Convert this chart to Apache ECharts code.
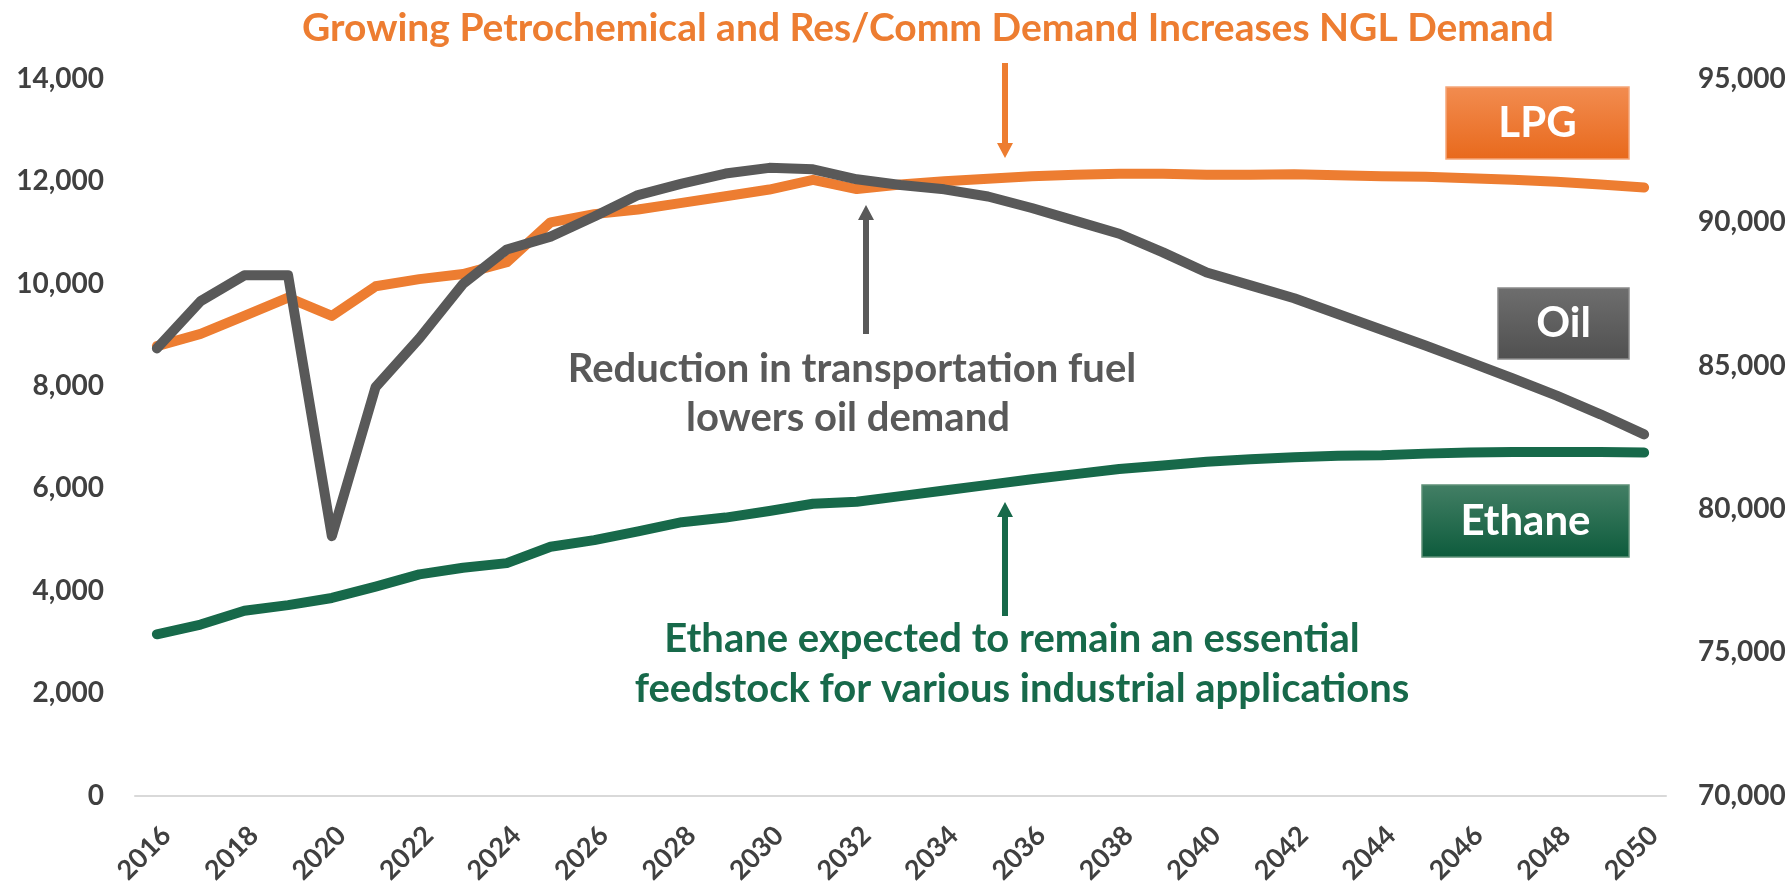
<!DOCTYPE html>
<html>
<head>
<meta charset="utf-8">
<script src="https://cdn.jsdelivr.net/npm/echarts@6/dist/echarts.min.js"></script>
<style>
    html, body { margin: 0; padding: 0; background: #fff; }
    #contain { width: 1789px; height: 887px; }
</style>
</head>
<body>
<div id="contain"></div>
<script>
    /*数据*/
    var years = ['2016', '2017', '2018', '2019', '2020', '2021', '2022', '2023', '2024', '2025',
        '2026', '2027', '2028', '2029', '2030', '2031', '2032', '2033', '2034', '2035',
        '2036', '2037', '2038', '2039', '2040', '2041', '2042', '2043', '2044', '2045',
        '2046', '2047', '2048', '2049', '2050'];
    var lpg = [8780, 9020, 9370, 9730, 9370, 9950, 10090, 10190, 10420, 11200,
        11360, 11450, 11580, 11710, 11840, 12030, 11850, 11940, 12000, 12050,
        12100, 12130, 12150, 12150, 12130, 12130, 12140, 12120, 12100, 12090,
        12060, 12030, 11990, 11940, 11880];
    var ethane = [3150, 3340, 3610, 3720, 3860, 4080, 4320, 4450, 4540, 4860,
        4990, 5160, 5340, 5430, 5560, 5700, 5740, 5850, 5960, 6070,
        6180, 6280, 6380, 6450, 6520, 6570, 6610, 6640, 6650, 6680,
        6700, 6710, 6710, 6710, 6700];
    var oil = [85600, 87250, 88150, 88150, 79050, 84250, 85950, 87850, 89050, 89500,
        90200, 90950, 91350, 91700, 91900, 91850, 91500, 91300, 91150, 90900,
        90500, 90050, 89600, 88950, 88250, 87800, 87350, 86800, 86250, 85700,
        85130, 84550, 83950, 83300, 82600];
    var leftTicks = {min: 0, max: 14000, interval: 2000};
    var rightTicks = {min: 70000, max: 95000, interval: 5000};

    var ORANGE = '#ED7D31';
    var GREY = '#595959';
    var GREEN = '#17694A';
    var FONT = 'Lato, "Open Sans", sans-serif';

    function fmt(v) {
        return v.toLocaleString('en-US');
    }

    /**
     * 箭头 (竖直)
     */
    function arrow(x, tail, tip, color) {
        var dir = tip > tail ? 1 : -1;
        var head = 15, half = 8;
        return [{
            type: 'line',
            shape: {x1: x, y1: tail, x2: x, y2: tip - dir * head},
            style: {stroke: color, lineWidth: 6}
        }, {
            type: 'polygon',
            shape: {points: [[x - half, tip - dir * head], [x + half, tip - dir * head], [x, tip]]},
            style: {fill: color}
        }];
    }

    function label(text, x, y, color, size) {
        return {
            type: 'text',
            x: x, y: y,
            style: {
                text: text,
                fill: color,
                font: 'bold ' + size + 'px ' + FONT,
                align: 'center',
                verticalAlign: 'middle'
            }
        };
    }

    function tag(text, x, y, w, h, top, bottom, border) {
        return {
            type: 'group',
            children: [{
                type: 'rect',
                shape: {x: x, y: y, width: w, height: h},
                style: {
                    fill: new echarts.graphic.LinearGradient(0, 0, 0, 1, [
                        {offset: 0, color: top},
                        {offset: 1, color: bottom}
                    ]),
                    stroke: border,
                    lineWidth: 1.5
                }
            }, label(text, x + w / 2, y + h / 2, '#fff', 42)]
        };
    }

    var graphics = [];
    graphics.push(label('Growing Petrochemical and Res/Comm Demand Increases NGL Demand', 928, 28, ORANGE, 39));
    graphics.push(label('Reduction in transportation fuel', 852, 369, GREY, 40));
    graphics.push(label('lowers oil demand', 848, 418, GREY, 40));
    graphics.push(label('Ethane expected to remain an essential', 1012, 639, GREEN, 40));
    graphics.push(label('feedstock for various industrial applications', 1022, 689, GREEN, 40));
    graphics = graphics.concat(arrow(1005, 63, 158, ORANGE));
    graphics = graphics.concat(arrow(866, 334, 205, GREY));
    graphics = graphics.concat(arrow(1005, 616, 502, GREEN));
    graphics.push(tag('LPG', 1446, 87, 183, 72, '#F28C50', '#E8691C', '#F5A77A'));
    graphics.push(tag('Oil', 1498, 288, 131, 71, '#6E6E6E', '#505050', '#8A8A8A'));
    graphics.push(tag('Ethane', 1422, 485, 207, 72, '#437F65', '#0D5B3C', '#5E9077'));

    var axisText = {color: '#404040', fontFamily: FONT, fontWeight: 'bold', fontSize: 28};

    var myChart = echarts.init(document.getElementById('contain'));
    myChart.setOption({
        animation: false,
        backgroundColor: '#fff',
        grid: {left: 135, right: 123, top: 79, bottom: 89},
        xAxis: {
            type: 'category',
            data: years,
            boundaryGap: true,
            axisLine: {show: true, lineStyle: {color: '#D9D9D9', width: 2}},
            axisTick: {show: false},
            axisLabel: {
                interval: 1,
                rotate: 45,
                margin: 26,
                align: 'right',
                verticalAlign: 'top',
                color: '#404040',
                fontFamily: FONT,
                fontWeight: 'bold',
                fontSize: 27
            }
        },
        yAxis: [{
            type: 'value',
            min: leftTicks.min,
            max: leftTicks.max,
            interval: leftTicks.interval,
            axisLine: {show: false},
            axisTick: {show: false},
            splitLine: {show: false},
            axisLabel: Object.assign({margin: 31, formatter: fmt}, axisText)
        }, {
            type: 'value',
            position: 'right',
            min: rightTicks.min,
            max: rightTicks.max,
            interval: rightTicks.interval,
            axisLine: {show: false},
            axisTick: {show: false},
            splitLine: {show: false},
            axisLabel: Object.assign({margin: 32, formatter: fmt}, axisText)
        }],
        series: [{
            name: 'Ethane',
            type: 'line',
            yAxisIndex: 0,
            data: ethane,
            showSymbol: false,
            lineStyle: {color: GREEN, width: 10, cap: 'round', join: 'round'}
        }, {
            name: 'LPG',
            type: 'line',
            yAxisIndex: 0,
            data: lpg,
            showSymbol: false,
            lineStyle: {color: ORANGE, width: 10, cap: 'round', join: 'round'}
        }, {
            name: 'Oil',
            type: 'line',
            yAxisIndex: 1,
            data: oil,
            showSymbol: false,
            lineStyle: {color: GREY, width: 10, cap: 'round', join: 'round'}
        }],
        graphic: graphics
    });
</script>
</body>
</html>
